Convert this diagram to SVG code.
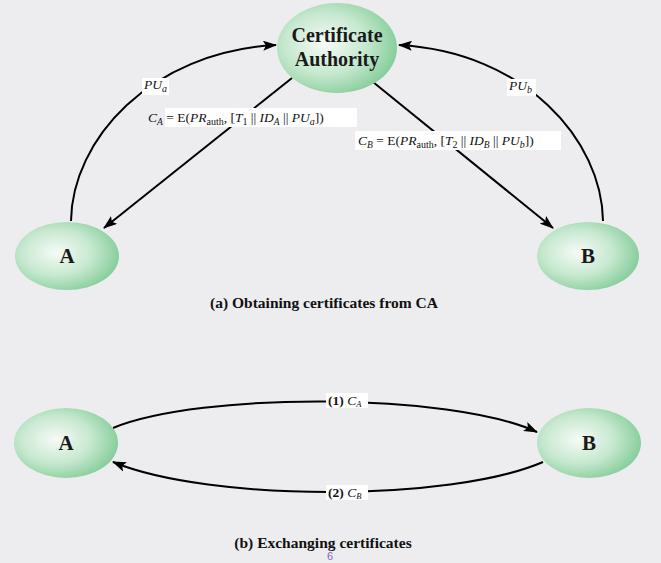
<svg xmlns="http://www.w3.org/2000/svg" width="661" height="563" viewBox="0 0 661 563">
<style>
.node{stroke:none;fill:url(#g)}
.nl{font-family:"Liberation Serif",serif;font-weight:bold;fill:#1a1a1a;text-anchor:middle}
.conn{fill:none;stroke:#000;stroke-width:2}
.lbl{font-family:"Liberation Serif",serif;font-size:13.5px;fill:#111}
.it{font-style:italic}
.box{fill:#fff}
.cap{font-family:"Liberation Serif",serif;font-weight:bold;font-size:15.5px;fill:#111;text-anchor:middle}
</style>
<defs>
<radialGradient id="g" cx="0.4" cy="0.45" r="0.62">
<stop offset="0" stop-color="#f6fbf6"/>
<stop offset="0.55" stop-color="#c6e8cf"/>
<stop offset="1" stop-color="#84cd99"/>
</radialGradient>
<marker id="ah" markerUnits="userSpaceOnUse" markerWidth="14" markerHeight="10" refX="13" refY="5" orient="auto">
<path d="M0,0 L14,5 L0,10 L3,5 Z" fill="#000"/>
</marker>
</defs>
<rect width="661" height="563" fill="#ededf0"/>

<g id="connectors">
<path class="conn" d="M71,221 C72,140 150,52 276,45" marker-end="url(#ah)"/>
<path class="conn" d="M603,221 C602,140 525,52 399,45" marker-end="url(#ah)"/>
<path class="conn" d="M292,78 L104,228" marker-end="url(#ah)"/>
<path class="conn" d="M373,82 L553,228" marker-end="url(#ah)"/>
<path class="conn" d="M113,428 C200,392 450,392 537,432" marker-end="url(#ah)"/>
<path class="conn" d="M543,462 C450,502 210,502 113,462" marker-end="url(#ah)"/>
</g>

<g id="labels">
<rect class="box" x="142" y="78" width="27" height="17"/>
<text class="lbl" x="144" y="89"><tspan class="it">PU</tspan><tspan class="it" font-size="10" dy="3">a</tspan></text>
<rect class="box" x="507" y="79" width="29" height="17"/>
<text class="lbl" x="509" y="90"><tspan class="it">PU</tspan><tspan class="it" font-size="10" dy="3">b</tspan></text>

<rect class="box" x="165" y="108" width="192" height="19"/>
<text class="lbl" x="148" y="122"><tspan class="it">C</tspan><tspan class="it" font-size="9.5" dy="3">A</tspan><tspan dy="-3"> = E(</tspan><tspan class="it">PR</tspan><tspan font-size="10" dy="3">auth</tspan><tspan dy="-3">, [</tspan><tspan class="it">T</tspan><tspan font-size="10" dy="3">1</tspan><tspan dy="-3"> || </tspan><tspan class="it">ID</tspan><tspan class="it" font-size="9.5" dy="3">A</tspan><tspan dy="-3"> || </tspan><tspan class="it">PU</tspan><tspan class="it" font-size="10" dy="3">a</tspan><tspan dy="-3">])</tspan></text>

<rect class="box" x="355" y="131" width="206" height="19"/>
<text class="lbl" x="358" y="145"><tspan class="it">C</tspan><tspan class="it" font-size="9.5" dy="3">B</tspan><tspan dy="-3"> = E(</tspan><tspan class="it">PR</tspan><tspan font-size="10" dy="3">auth</tspan><tspan dy="-3">, [</tspan><tspan class="it">T</tspan><tspan font-size="10" dy="3">2</tspan><tspan dy="-3"> || </tspan><tspan class="it">ID</tspan><tspan class="it" font-size="9.5" dy="3">B</tspan><tspan dy="-3"> || </tspan><tspan class="it">PU</tspan><tspan class="it" font-size="10" dy="3">b</tspan><tspan dy="-3">])</tspan></text>

<rect class="box" x="326" y="393" width="42" height="15"/>
<text class="lbl" x="328" y="405" font-size="12.5"><tspan font-weight="bold">(1)</tspan> <tspan class="it">C</tspan><tspan class="it" font-size="8.5" dy="2">A</tspan></text>
<rect class="box" x="326" y="485" width="42" height="15"/>
<text class="lbl" x="328" y="497" font-size="12.5"><tspan font-weight="bold">(2)</tspan> <tspan class="it">C</tspan><tspan class="it" font-size="8.5" dy="2">B</tspan></text>
</g>

<g id="ca">
<ellipse class="node" cx="337" cy="48" rx="60" ry="45"/>
<text class="nl" x="337" y="42" font-size="20">Certificate</text>
<text class="nl" x="337" y="66" font-size="20">Authority</text>
</g>
<g id="a-top">
<ellipse class="node" cx="67" cy="256" rx="52" ry="34"/>
<text class="nl" x="67" y="263" font-size="21">A</text>
</g>
<g id="b-top">
<ellipse class="node" cx="588" cy="256" rx="51" ry="34"/>
<text class="nl" x="588" y="263" font-size="21">B</text>
</g>
<g id="a-bottom">
<ellipse class="node" cx="66" cy="443" rx="52" ry="35"/>
<text class="nl" x="66" y="450" font-size="21">A</text>
</g>
<g id="b-bottom">
<ellipse class="node" cx="589" cy="443" rx="52" ry="35"/>
<text class="nl" x="589" y="450" font-size="21">B</text>
</g>

<text class="cap" x="324" y="308">(a) Obtaining certificates from CA</text>
<text class="cap" x="323" y="548">(b) Exchanging certificates</text>
<text x="330" y="560" font-family="Liberation Sans,sans-serif" font-size="11" fill="#7a68c8" text-anchor="middle">6</text>
</svg>
